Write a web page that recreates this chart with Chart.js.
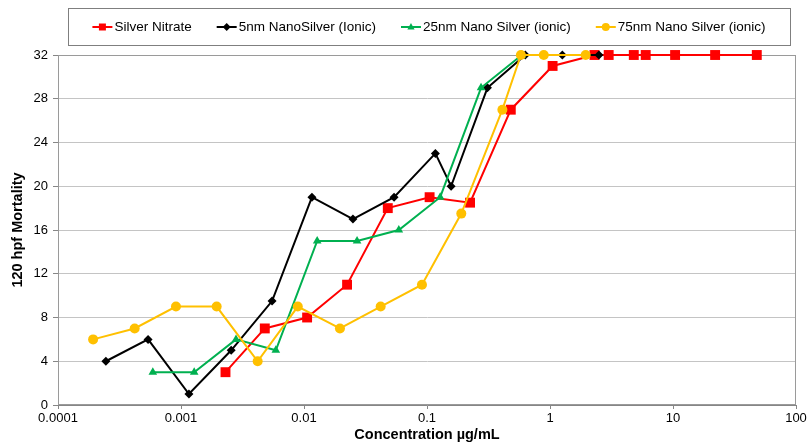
<!DOCTYPE html>
<html>
<head>
<meta charset="utf-8">
<script src="https://cdn.jsdelivr.net/npm/chart.js@4"></script>
<style>
  body { margin: 0; background: #fff; }
  #wrap { width: 809px; height: 444px; }
</style>
</head>
<body>
<div id="wrap"><canvas id="mortalityChart" width="809" height="444"></canvas></div>
<script>
// values (concentration in ug/mL, mortality count)
const nitrateConc = [0.0023, 0.0048, 0.0106, 0.0224, 0.048, 0.105, 0.224, 0.48, 1.05, 2.3, 3.0, 4.8, 6.0, 10.4, 22, 48];
const nitrateMort = [3, 7, 8, 11, 18, 19, 18.5, 27, 31, 32, 32, 32, 32, 32, 32, 32];

const nano5Conc = [0.000245, 0.00054, 0.00116, 0.00256, 0.0055, 0.0116, 0.025, 0.054, 0.117, 0.157, 0.31, 0.63, 1.26, 2.5];
const nano5Mort = [4, 6, 1, 5, 9.5, 19, 17, 19, 23, 20, 29, 32, 32, 32];

const nano25Conc = [0.00059, 0.00128, 0.0028, 0.0059, 0.0128, 0.027, 0.059, 0.128, 0.275, 0.59];
const nano25Mort = [3, 3, 6, 5, 15, 15, 16, 19, 29, 32];

const nano75Conc = [0.000193, 0.00042, 0.00091, 0.00195, 0.0042, 0.0089, 0.0196, 0.042, 0.091, 0.19, 0.41, 0.58, 0.89, 1.95];
const nano75Mort = [6, 7, 9, 9, 4, 9, 7, 9, 11, 17.5, 27, 32, 32, 32];

const seriesNames = ['Silver Nitrate', '5nm NanoSilver (Ionic)', '25nm Nano Silver (ionic)', '75nm Nano Silver (ionic)'];
const xTickValues = [0.0001, 0.001, 0.01, 0.1, 1, 10, 100];
const xTickLabels = ['0.0001', '0.001', '0.01', '0.1', '1', '10', '100'];

const toPoints = (xs, ys) => xs.map((x, i) => ({ x: x, y: ys[i] }));

const styles = [
    { color: '#ff0000', point: 'rect', radius: 7 },
    { color: '#000000', point: 'rectRot', radius: 4.5 },
    { color: '#00b050', point: 'triangle', radius: 5 },
    { color: '#ffc000', point: 'circle', radius: 5 }
];
const allData = [
    toPoints(nitrateConc, nitrateMort),
    toPoints(nano5Conc, nano5Mort),
    toPoints(nano25Conc, nano25Mort),
    toPoints(nano75Conc, nano75Mort)
];

const FONT = '"Liberation Sans", Arial, sans-serif';

function drawMarker(ctx, color, shape, x, y, r) {
    ctx.fillStyle = color;
    ctx.beginPath();
    if (shape === 'rect') {
        ctx.rect(x - r, y - r, r * 2, r * 2);
    } else if (shape === 'rectRot') {
        ctx.moveTo(x, y - r); ctx.lineTo(x + r, y); ctx.lineTo(x, y + r); ctx.lineTo(x - r, y);
    } else if (shape === 'triangle') {
        ctx.moveTo(x, y - r); ctx.lineTo(x + r * 0.9, y + r * 0.6); ctx.lineTo(x - r * 0.9, y + r * 0.6);
    } else {
        ctx.arc(x, y, r, 0, Math.PI * 2);
    }
    ctx.closePath();
    ctx.fill();
}

// legend box with line + marker samples, like the spreadsheet one
const boxLegend = {
    id: 'boxLegend',
    afterDraw(chart) {
        const ctx = chart.ctx;
        const left = 68, right = 790, top = 8, bottom = 45;
        ctx.save();
        ctx.fillStyle = '#fff';
        ctx.fillRect(left, top, right - left, bottom - top);
        ctx.strokeStyle = '#7f7f7f';
        ctx.lineWidth = 1;
        ctx.strokeRect(left + 0.5, top + 0.5, right - left, bottom - top);
        ctx.font = '13.5px ' + FONT;
        ctx.textBaseline = 'middle';
        const lineLen = 20, gap = 25;
        const widths = seriesNames.map(n => ctx.measureText(n).width);
        const total = widths.reduce((a, w) => a + lineLen + 2 + w, 0) + gap * (seriesNames.length - 1);
        let x = (left + right) / 2 - total / 2;
        const y = (top + bottom) / 2 + 0.5;
        seriesNames.forEach((name, i) => {
            const st = styles[i];
            ctx.strokeStyle = st.color;
            ctx.lineWidth = 2;
            ctx.beginPath();
            ctx.moveTo(x, y); ctx.lineTo(x + lineLen, y);
            ctx.stroke();
            drawMarker(ctx, st.color, st.point, x + lineLen / 2, y, st.point === 'rect' ? 3.5 : 4);
            ctx.fillStyle = '#000';
            ctx.fillText(name, x + lineLen + 2, y);
            x += lineLen + 2 + widths[i] + gap;
        });
        ctx.restore();
    }
};

const plotFrame = {
    id: 'plotFrame',
    beforeDatasetsDraw(chart) {
        const a = chart.chartArea;
        const ctx = chart.ctx;
        ctx.save();
        ctx.strokeStyle = '#9a9a9a';
        ctx.lineWidth = 1;
        ctx.strokeRect(Math.round(a.left) + 0.5, Math.round(a.top) + 0.5, Math.round(a.right - a.left) - 1, Math.round(a.bottom - a.top) - 1);
        ctx.restore();
    }
};

new Chart(document.getElementById('mortalityChart'), {
    type: 'scatter',
    data: {
        datasets: allData.map((pts, i) => ({
            label: seriesNames[i],
            data: pts,
            showLine: true,
            borderColor: styles[i].color,
            backgroundColor: styles[i].color,
            borderWidth: 2,
            pointStyle: styles[i].point,
            pointRadius: styles[i].radius,
            pointBorderWidth: 0,
            pointBackgroundColor: styles[i].color,
            order: 3 - i,
            clip: false
        }))
    },
    options: {
        responsive: false,
        animation: false,
        layout: { padding: { top: 55, right: 13, left: 0, bottom: 0 } },
        plugins: {
            legend: { display: false },
            tooltip: { enabled: false }
        },
        scales: {
            x: {
                type: 'logarithmic',
                min: 0.0001,
                max: 100,
                afterBuildTicks: scale => {
                    scale.ticks = xTickValues.map(v => ({ value: v }));
                },
                afterFit: scale => { scale.height = 39; },
                ticks: {
                    autoSkip: false,
                    maxRotation: 0,
                    padding: 2,
                    color: '#000',
                    font: { family: FONT, size: 13 },
                    callback: (value, index) => xTickLabels[index]
                },
                grid: { drawOnChartArea: false, tickLength: 4, color: '#868686' },
                border: { color: '#868686' },
                title: {
                    display: true,
                    text: 'Concentration µg/mL',
                    color: '#000',
                    padding: { top: 0, bottom: 0 },
                    font: { family: FONT, size: 14.5, weight: 'bold' }
                }
            },
            y: {
                min: 0,
                max: 32,
                afterFit: scale => { scale.width = 58; },
                ticks: {
                    stepSize: 4,
                    padding: 5,
                    color: '#000',
                    font: { family: FONT, size: 13 }
                },
                grid: { color: '#c4c4c4', tickColor: '#868686', tickLength: 5 },
                border: { color: '#868686' },
                title: {
                    display: true,
                    text: '120 hpf Mortality',
                    color: '#000',
                    padding: { top: 9, bottom: 0 },
                    font: { family: FONT, size: 14.5, weight: 'bold' }
                }
            }
        }
    },
    plugins: [plotFrame, boxLegend]
});
</script>
</body>
</html>
